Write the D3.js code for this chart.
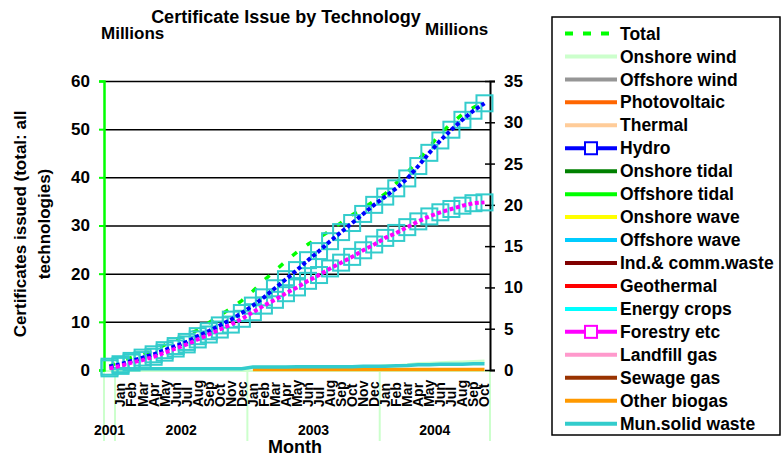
<!DOCTYPE html>
<html>
<head>
<meta charset="utf-8">
<script src="https://cdn.jsdelivr.net/npm/d3@7"></script>
<style>
	body { margin: 0; background: #fff; }
	svg { font-family: "Liberation Sans", Arial, sans-serif; font-weight: bold; }
</style>
</head>
<body>
<div id="chart"></div>
<script>
///////////////////////////////////////////////////////////////////////////
//////////////////////////// data /////////////////////////////////////////
///////////////////////////////////////////////////////////////////////////

// month labels, first category is Dec 2001 (no label shown)
const months = ["",
	"Jan", "Feb", "Mar", "Apr", "May", "Jun", "Jul", "Aug", "Sep", "Oct", "Nov", "Dec",
	"Jan", "Feb", "Mar", "Apr", "May", "Jun", "Jul", "Aug", "Sep", "Oct", "Nov", "Dec",
	"Jan", "Feb", "Mar", "Apr", "May", "Jun", "Jul", "Aug", "Sep", "Oct"];
const yearLabels = ["2001", "2002", "2003", "2004"];
const yearMonths = [1, 12, 12, 10];

// left axis (millions, total)
const total = [0.8, 1.8, 2.6, 3.3, 4.1, 5.2, 6.4, 7.2, 8.3, 9.8, 11.3, 12.8, 14.4,
	16.4, 18.6, 20.6, 22.6, 24.5, 26.1, 27.5, 28.9, 30.6, 32.2, 33.6, 35.1,
	36.6, 38.8, 41.0, 43.6, 46.3, 49.1, 51.2, 53.1, 54.5, 55.6];

// right axis (millions)
const hydro = [0.4, 0.7, 1.1, 1.5, 1.9, 2.4, 2.9, 3.4, 4.1, 4.7, 5.4, 6.1, 6.9,
	7.8, 8.8, 9.9, 11.0, 12.1, 13.3, 14.4, 15.6, 16.7, 17.8, 18.9, 20.0,
	21.0, 22.0, 23.2, 24.7, 26.3, 27.8, 29.1, 30.3, 31.4, 32.3];
const forestry = [0.2, 0.5, 0.9, 1.2, 1.6, 2.1, 2.6, 3.1, 3.7, 4.3, 4.9, 5.5, 6.2,
	7.0, 7.8, 8.5, 9.3, 10.0, 10.8, 11.5, 12.3, 13.0, 13.7, 14.5, 15.2,
	16.0, 16.6, 17.3, 18.0, 18.6, 19.1, 19.5, 19.9, 20.2, 20.3];
const onshoreWind = [0.1, 0.1, 0.1, 0.1, 0.1, 0.1, 0.1, 0.1, 0.1, 0.1, 0.1, 0.1, 0.1,
	0.3, 0.3, 0.3, 0.3, 0.3, 0.3, 0.3, 0.3, 0.3, 0.3, 0.3, 0.3,
	0.5, 0.5, 0.6, 0.75, 0.8, 0.85, 0.9, 0.95, 1.0, 1.05];
const otherBiogas = [null, null, null, null, null, null, null, null, null, null, null, null, null,
	0.05, 0.05, 0.05, 0.05, 0.05, 0.05, 0.05, 0.05, 0.05, 0.05, 0.05, 0.05,
	0.05, 0.05, 0.05, 0.05, 0.05, 0.05, 0.05, 0.05, 0.05, 0.05];
const munWaste = [0.2, 0.15, 0.15, 0.15, 0.15, 0.15, 0.15, 0.15, 0.15, 0.15, 0.15, 0.15, 0.15,
	0.35, 0.35, 0.35, 0.35, 0.4, 0.4, 0.4, 0.4, 0.4, 0.4, 0.45, 0.45,
	0.45, 0.5, 0.55, 0.65, 0.65, 0.7, 0.7, 0.7, 0.75, 0.75];

const legendNames = ["Total", "Onshore wind", "Offshore wind", "Photovoltaic", "Thermal",
	"Hydro", "Onshore tidal", "Offshore tidal", "Onshore wave", "Offshore wave",
	"Ind.& comm.waste", "Geothermal", "Energy crops", "Forestry etc", "Landfill gas",
	"Sewage gas", "Other biogas", "Mun.solid waste"];
const legendColors = ["#00ff00", "#ccffcc", "#969696", "#ff6600", "#ffcc99",
	"#0000ff", "#008000", "#00ff00", "#ffff00", "#00ccff",
	"#800000", "#ff0000", "#00ffff", "#ff00ff", "#ff99cc",
	"#993300", "#ff9900", "#33cccc"];

///////////////////////////////////////////////////////////////////////////
//////////////////////////// Set up svg ///////////////////////////////////
///////////////////////////////////////////////////////////////////////////

const width = 782;
const height = 457;
const plot = { left: 104, right: 490, top: 81, bottom: 370 };

const svg = d3.select("#chart")
	.append("svg")
	.attr("width", width)
	.attr("height", height);

///////////////////////////////////////////////////////////////////////////
//////////////////////////// scales ///////////////////////////////////////
///////////////////////////////////////////////////////////////////////////

const xScale = d3.scaleBand()
	.domain(d3.range(months.length))
	.range([plot.left, plot.right]);
const cx = (i) => xScale(i) + xScale.bandwidth() / 2;

const yLeft = d3.scaleLinear().domain([0, 60]).range([plot.bottom, plot.top]);
const yRight = d3.scaleLinear().domain([0, 35]).range([plot.bottom, plot.top]);

///////////////////////////////////////////////////////////////////////////
//////////////////////////// axes /////////////////////////////////////////
///////////////////////////////////////////////////////////////////////////

// gridlines
svg.append("g")
	.attr("transform", `translate(${plot.left},0)`)
	.call(d3.axisLeft(yLeft).tickValues(d3.range(10, 61, 10))
		.tickSize(-(plot.right - plot.left)).tickFormat(""))
	.call((g) => g.select(".domain").remove())
	.selectAll("line")
	.attr("stroke", "#000")
	.attr("stroke-width", 1.5);

// category axis line + year separators
svg.append("line")
	.attr("x1", plot.left).attr("x2", plot.right)
	.attr("y1", plot.bottom + 1).attr("y2", plot.bottom + 1)
	.attr("stroke", "#ccffcc").attr("stroke-width", 2);

let start = 0;
const yearBounds = yearMonths.map((n, k) => {
	const b = { label: yearLabels[k], x0: xScale(start), x1: xScale(start + n - 1) + xScale.bandwidth() };
	start += n;
	return b;
});

svg.selectAll("line.sep")
	.data([plot.left].concat(yearBounds.map((d) => d.x1)))
	.enter()
	.append("line")
	.attr("class", "sep")
	.attr("x1", (d) => d).attr("x2", (d) => d)
	.attr("y1", plot.bottom).attr("y2", 441)
	.attr("stroke", "#ccffcc").attr("stroke-width", 2);

// month labels
svg.selectAll("text.month")
	.data(months)
	.enter()
	.append("text")
	.attr("class", "month")
	.attr("transform", (d, i) => `translate(${cx(i)},407) rotate(-90)`)
	.attr("dy", "0.35em")
	.style("font-size", "14px")
	.text((d) => d);

// year labels
svg.selectAll("text.year")
	.data(yearBounds)
	.enter()
	.append("text")
	.attr("class", "year")
	.attr("x", (d) => (d.x0 + d.x1) / 2)
	.attr("y", 435)
	.attr("text-anchor", "middle")
	.style("font-size", "14px")
	.text((d) => d.label);

svg.append("text")
	.attr("x", 295).attr("y", 453)
	.attr("text-anchor", "middle")
	.style("font-size", "18px")
	.text("Month");

// left axis (green)
const leftAxis = svg.append("g")
	.attr("transform", `translate(${plot.left},0)`)
	.call(d3.axisLeft(yLeft).tickValues(d3.range(0, 61, 10)).tickSize(5).tickPadding(9));
leftAxis.select(".domain").attr("stroke", "#00ff00").attr("stroke-width", 2.5);
leftAxis.selectAll("line").attr("stroke", "#00ff00").attr("stroke-width", 2);
leftAxis.selectAll("text")
	.style("font-size", "17px").style("font-family", "Liberation Sans, Arial, sans-serif")
	.attr("fill", "#000");

// right axis (black, ticks cross)
const rightAxis = svg.append("g")
	.attr("transform", `translate(${plot.right},0)`)
	.call(d3.axisRight(yRight).tickValues(d3.range(0, 36, 5)).tickSize(5).tickPadding(9));
rightAxis.select(".domain").attr("stroke", "#000").attr("stroke-width", 2);
rightAxis.selectAll(".tick line").attr("x1", -5).attr("stroke", "#000").attr("stroke-width", 1.5);
rightAxis.selectAll("text")
	.style("font-size", "17px").style("font-family", "Liberation Sans, Arial, sans-serif")
	.attr("fill", "#000");

///////////////////////////////////////////////////////////////////////////
//////////////////////////// plot /////////////////////////////////////////
///////////////////////////////////////////////////////////////////////////

const lineLeft = d3.line().x((d, i) => cx(i)).y((d) => yLeft(d));
const lineRight = d3.line()
	.defined((d) => d != null)
	.x((d, i) => cx(i)).y((d) => yRight(d));

// total (dashed green)
svg.append("path")
	.datum(total)
	.attr("d", lineLeft)
	.attr("fill", "none")
	.attr("stroke", "#00ff00")
	.attr("stroke-width", 3.5)
	.attr("stroke-dasharray", "6,12");

// near-zero series
[[onshoreWind, "#ccffcc"], [otherBiogas, "#ff9900"], [munWaste, "#33cccc"]].forEach(([vals, col]) => {
	svg.append("path")
		.datum(vals)
		.attr("d", lineRight)
		.attr("fill", "none")
		.attr("stroke", col)
		.attr("stroke-width", 3.5);
});

// square markers
[hydro, forestry].forEach((vals) => {
	svg.append("g")
		.selectAll("rect")
		.data(vals)
		.enter()
		.append("rect")
		.attr("x", (d, i) => cx(i) - 8)
		.attr("y", (d) => yRight(d) - 8)
		.attr("width", 16)
		.attr("height", 16)
		.attr("fill", "none")
		.attr("stroke", "#33cccc")
		.attr("stroke-width", 2);
});

// hydro + forestry lines (dotted)
[[hydro, "#0000ff"], [forestry, "#ff00ff"]].forEach(([vals, col]) => {
	svg.append("path")
		.datum(vals)
		.attr("d", lineRight)
		.attr("fill", "none")
		.attr("stroke", col)
		.attr("stroke-width", 4)
		.attr("stroke-dasharray", "4,2.5");
});

///////////////////////////////////////////////////////////////////////////
//////////////////////////// titles ///////////////////////////////////////
///////////////////////////////////////////////////////////////////////////

svg.append("text")
	.attr("x", 286).attr("y", 23)
	.attr("text-anchor", "middle")
	.style("font-size", "18px")
	.text("Certificate Issue by Technology");
svg.append("text")
	.attr("x", 101).attr("y", 39)
	.style("font-size", "17px")
	.text("Millions");
svg.append("text")
	.attr("x", 425).attr("y", 35)
	.style("font-size", "17px")
	.text("Millions");

const yTitle = svg.append("text")
	.attr("transform", "translate(20,224) rotate(-90)")
	.attr("text-anchor", "middle")
	.style("font-size", "17px");
yTitle.append("tspan").attr("x", 0).attr("dy", "0.35em").text("Certificates issued (total: all");
yTitle.append("tspan").attr("x", 0).attr("dy", "1.4em").text("technologies)");

///////////////////////////////////////////////////////////////////////////
//////////////////////////// legend ///////////////////////////////////////
///////////////////////////////////////////////////////////////////////////

svg.append("rect")
	.attr("x", 552).attr("y", 17)
	.attr("width", 228).attr("height", 418)
	.attr("fill", "#fff")
	.attr("stroke", "#000")
	.attr("stroke-width", 1.5);

const legend = svg.selectAll("g.legend")
	.data(legendNames)
	.enter()
	.append("g")
	.attr("class", "legend")
	.attr("transform", (d, i) => `translate(0,${33.5 + i * 22.95})`);

legend.append("line")
	.attr("x1", 565).attr("x2", 617)
	.attr("stroke", (d, i) => legendColors[i])
	.attr("stroke-width", 4)
	.attr("stroke-dasharray", (d, i) => (i === 0 ? "8,10" : null));

legend.filter((d) => d === "Hydro" || d === "Forestry etc")
	.append("rect")
	.attr("x", 585).attr("y", -6)
	.attr("width", 12).attr("height", 12)
	.attr("fill", "#fff")
	.attr("stroke", (d) => legendColors[legendNames.indexOf(d)])
	.attr("stroke-width", 2);

legend.append("text")
	.attr("x", 620)
	.attr("dy", "0.35em")
	.style("font-size", "17.5px")
	.text((d) => d);
</script>
</body>
</html>
